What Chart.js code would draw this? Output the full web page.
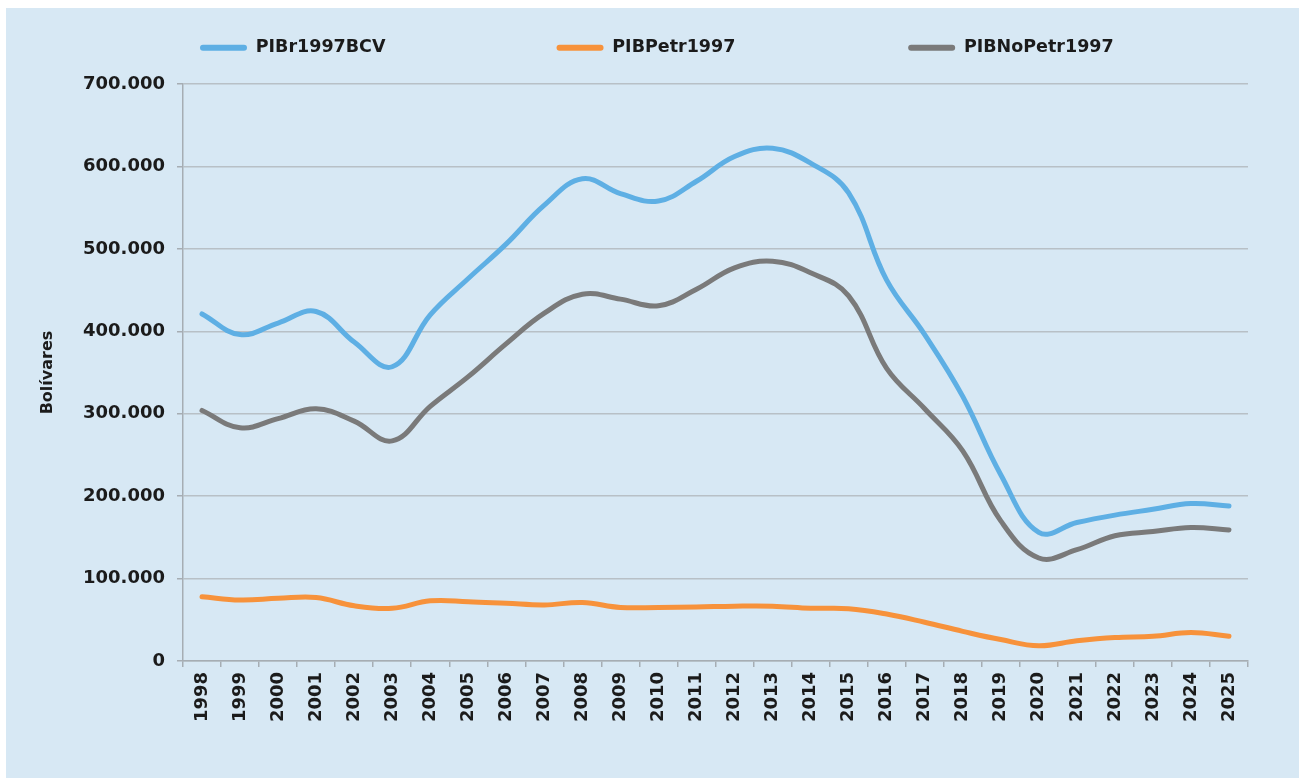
<!DOCTYPE html>
<html>
<head>
<meta charset="utf-8">
<title>PIB Venezuela 1998-2025</title>
<script src="https://cdn.jsdelivr.net/npm/chart.js@4.4.0/dist/chart.umd.min.js"></script>
<style>
    html, body { margin: 0; padding: 0; background: #ffffff; }
    #panel { position: absolute; left: 6px; top: 8px; width: 1293px; height: 770px; background: #d7e8f4; }
</style>
</head>
<body>
<div id="panel"><canvas id="pibChart"></canvas></div>
<script>
// values (bolivares of 1997)
const years = ['1998', '1999', '2000', '2001', '2002', '2003', '2004', '2005', '2006', '2007',
    '2008', '2009', '2010', '2011', '2012', '2013', '2014', '2015', '2016', '2017',
    '2018', '2019', '2020', '2021', '2022', '2023', '2024', '2025'];

const pibTotal = [421000, 396000, 410000, 424000, 387000, 357000, 420000, 464000, 506000, 553000,
    585000, 567000, 558000, 582000, 612000, 622000, 604000, 568000, 462000, 396000,
    321000, 226000, 156000, 168000, 177000, 184000, 191000, 188000];

const pibPetrolero = [78000, 74000, 76000, 77000, 67000, 64000, 73000, 72000, 70000, 68000,
    71000, 65000, 65000, 65500, 66500, 66500, 64000, 63500, 57000, 47000,
    36000, 26000, 18500, 24500, 28500, 30000, 34500, 30000];

const pibNoPetrolero = [304000, 283000, 294000, 306000, 291000, 267000, 309000, 345000, 385000, 422000,
    445000, 439000, 431000, 451000, 477000, 485000, 471000, 443000, 355000, 306000,
    255000, 170000, 125000, 135000, 152000, 157000, 162000, 159000];

const yTicks = [0, 100000, 200000, 300000, 400000, 500000, 600000, 700000];

const seriesNames = ['PIBr1997BCV', 'PIBPetr1997', 'PIBNoPetr1997'];

const ink = '#1b1b1b';
const gridColor = '#b8c0c6';
const axisColor = '#a6adb3';
const fontFamily = 'DejaVu Sans';
const legendSize = 17.5;
const legendTextWidths = [285, 279]; // legend entries are spread like the original

// 700000 -> "700.000"
const fmt = v => String(v).replace(/\B(?=(\d{3})+(?!\d))/g, '.');

function padLabel(ctx, text, width) {
    ctx.save();
    ctx.font = `bold ${legendSize}px ${fontFamily}`;
    let out = text;
    while (ctx.measureText(out + '\u00a0').width <= width) out += '\u00a0';
    while (ctx.measureText(out + '\u200a').width <= width) out += '\u200a';
    ctx.restore();
    return out;
}

const ctx = document.getElementById('pibChart').getContext('2d');

const pibChart = new Chart(ctx, {
    type: 'line',
    data: {
        labels: years,
        datasets: [
            { label: seriesNames[0], data: pibTotal, borderColor: '#5eafe4', backgroundColor: '#5eafe4' },
            { label: seriesNames[1], data: pibPetrolero, borderColor: '#f7923b', backgroundColor: '#f7923b' },
            { label: seriesNames[2], data: pibNoPetrolero, borderColor: '#7a7a7a', backgroundColor: '#7a7a7a' }
        ]
    },
    options: {
        responsive: true,
        maintainAspectRatio: false,
        animation: false,
        layout: {
            padding: { top: 14, right: 51, bottom: 0, left: 0 }
        },
        elements: {
            line: { borderWidth: 5, tension: 0.4, borderCapStyle: 'round', borderJoinStyle: 'round' },
            point: { radius: 0, hoverRadius: 0 }
        },
        plugins: {
            legend: {
                position: 'top',
                align: 'start',
                fullSize: false,
                labels: {
                    boxWidth: 47,
                    boxHeight: 6,
                    padding: 17,
                    color: ink,
                    font: { family: fontFamily, weight: 'bold', size: legendSize },
                    useBorderRadius: true,
                    borderRadius: 3,
                    generateLabels: function(chart) {
                        const items = Chart.defaults.plugins.legend.labels.generateLabels(chart);
                        items.forEach((item, i) => {
                            item.lineWidth = 0;
                            item.fillStyle = item.strokeStyle;
                            if (i < legendTextWidths.length) {
                                item.text = padLabel(chart.ctx, item.text, legendTextWidths[i]);
                            }
                        });
                        return items;
                    }
                }
            },
            // empty spacer between legend and plot
            subtitle: {
                display: true,
                text: '',
                position: 'top',
                fullSize: false,
                weight: 500,
                padding: 0,
                font: { size: 10, lineHeight: 1.75 }
            },
            tooltip: { enabled: false }
        },
        scales: {
            x: {
                offset: true,
                afterFit: scale => { scale.height = 117; },
                ticks: {
                    minRotation: 90,
                    maxRotation: 90,
                    autoSkip: false,
                    padding: 5,
                    color: ink,
                    font: { family: fontFamily, weight: 'bold', size: 18 }
                },
                grid: {
                    offset: true,
                    drawOnChartArea: false,
                    tickLength: 6,
                    tickColor: axisColor,
                    lineWidth: 1.5
                },
                border: { color: axisColor, width: 1.5 }
            },
            y: {
                min: 0,
                max: 700000,
                afterBuildTicks: scale => { scale.ticks = yTicks.map(v => ({ value: v })); },
                afterFit: scale => { scale.width = 177; },
                ticks: {
                    padding: 12,
                    color: ink,
                    font: { family: fontFamily, weight: 'bold', size: 18 },
                    callback: value => fmt(value)
                },
                grid: {
                    color: gridColor,
                    lineWidth: 1.5,
                    tickLength: 6,
                    tickColor: axisColor
                },
                border: { color: axisColor, width: 1.5 },
                title: {
                    display: true,
                    text: 'Bolívares',
                    color: ink,
                    font: { family: fontFamily, weight: 'bold', size: 16 },
                    padding: { top: 32, bottom: 0 }
                }
            }
        }
    }
});
</script>
</body>
</html>
